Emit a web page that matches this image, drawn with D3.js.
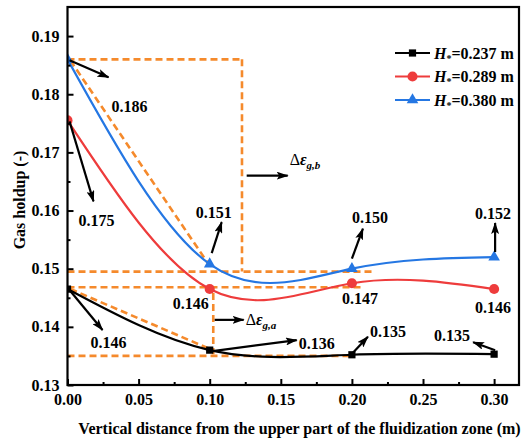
<!DOCTYPE html>
<html>
<head>
<meta charset="utf-8">
<script src="https://cdn.jsdelivr.net/npm/d3@7"></script>
<style>
  html, body { margin: 0; padding: 0; background: #fff; }
  svg text { font-family: "Liberation Serif", "Times New Roman", serif; font-weight: bold; }
</style>
</head>
<body>
<svg id="chart" width="521" height="441"></svg>
<script>
// Measurement positions (m from the upper part of the fluidization zone)
const positions = [0.0, 0.1, 0.2, 0.3];

// Gas holdup for each static bed height
const seriesNames = ["0.237", "0.289", "0.380"];
const holdup237 = [0.1465, 0.1360, 0.1352, 0.1353];
const holdup289 = [0.1755, 0.1465, 0.1475, 0.1465];
const holdup380 = [0.1860, 0.1508, 0.1500, 0.1520];

const xTicks = [0.00, 0.05, 0.10, 0.15, 0.20, 0.25, 0.30];
const yTicks = [0.13, 0.14, 0.15, 0.16, 0.17, 0.18, 0.19];

const colors = ["#000000", "#ee3c3c", "#2577e3"];
const symbols = [d3.symbolSquare, d3.symbolCircle, d3.symbolTriangle];
const symbolSizes = [52, 80, 58];
const orange = "#f58a2c";

const svg = d3.select("#chart");
const L = 67.5, R = 519, T = 7, B = 385;

const x = d3.scaleLinear().domain([0, 0.3175]).range([L, R]);
const y = d3.scaleLinear().domain([0.13, 0.195]).range([B, T]);

svg.append("defs").append("clipPath").attr("id", "plotClip")
  .append("rect").attr("x", L).attr("y", T).attr("width", R - L).attr("height", B - T);

svg.select("defs").append("marker")
  .attr("id", "arrowHead").attr("viewBox", "0 0 12 8")
  .attr("refX", 11).attr("refY", 4)
  .attr("markerWidth", 12).attr("markerHeight", 8)
  .attr("markerUnits", "userSpaceOnUse").attr("orient", "auto")
  .append("path").attr("d", "M0,0 L12,4 L0,8 L2.5,4 Z").attr("fill", "#000");

// Orange dashed guide lines (data coordinates)
const guides = [
  [[0, 0.186], [0.1227, 0.186]],
  [[0.1227, 0.186], [0.1227, 0.1495]],
  [[0, 0.1495], [0.215, 0.1495]],
  [[0, 0.1468], [0.207, 0.1468]],
  [[0.1025, 0.1458], [0.1025, 0.1353]],
  [[0, 0.1350], [0.200, 0.1350]],
  [[0.002, 0.1858], [0.1, 0.1505]],
  [[0.002, 0.1465], [0.1, 0.1362]]
];
const gG = svg.append("g").attr("clip-path", "url(#plotClip)");
guides.forEach(g => {
  gG.append("line")
    .attr("x1", x(g[0][0])).attr("y1", y(g[0][1]))
    .attr("x2", x(g[1][0])).attr("y2", y(g[1][1]))
    .attr("stroke", orange).attr("stroke-width", 2.6)
    .attr("stroke-dasharray", "7,4");
});

// Series curves and markers
const allSeries = [holdup237, holdup289, holdup380];
const line = d3.line()
  .x((d, i) => x(positions[i]))
  .y(d => y(d))
  .curve(d3.curveNatural);

const plotG = svg.append("g").attr("clip-path", "url(#plotClip)");
allSeries.forEach((vals, s) => {
  plotG.append("path").datum(vals)
    .attr("d", line).attr("fill", "none")
    .attr("stroke", colors[s]).attr("stroke-width", 2.2);
});
allSeries.forEach((vals, s) => {
  plotG.selectAll(null).data(vals).enter().append("path")
    .attr("d", d3.symbol().type(symbols[s]).size(symbolSizes[s]))
    .attr("transform", (d, i) => `translate(${x(positions[i])},${y(d)})`)
    .attr("fill", colors[s]);
});

// Axes with inward ticks
const xAxis = d3.axisBottom(x).tickValues(xTicks).tickSize(-6).tickPadding(9)
  .tickFormat(d3.format(".2f"));
const yAxis = d3.axisLeft(y).tickValues(yTicks).tickSize(-6).tickPadding(8)
  .tickFormat(d3.format(".2f"));
const xMinor = d3.axisBottom(x).tickValues(d3.range(0.025, 0.31, 0.05)).tickSize(-3).tickFormat("");
const yMinor = d3.axisLeft(y).tickValues(d3.range(0.135, 0.195, 0.01)).tickSize(-3).tickFormat("");

function styleAxis(g) {
  g.select(".domain").remove();
  g.selectAll(".tick line").attr("stroke", "#000").attr("stroke-width", 2);
  g.selectAll(".tick text").attr("font-size", 16).attr("fill", "#000")
    .attr("font-family", "Liberation Serif, serif").attr("font-weight", "bold");
}
svg.append("g").attr("transform", `translate(0,${B})`).call(xAxis).call(styleAxis);
svg.append("g").attr("transform", `translate(0,${B})`).call(xMinor).call(styleAxis);
svg.append("g").attr("transform", `translate(${L},0)`).call(yAxis).call(styleAxis);
svg.append("g").attr("transform", `translate(${L},0)`).call(yMinor).call(styleAxis);

// Frame
svg.append("rect").attr("x", L).attr("y", T).attr("width", R - L).attr("height", B - T)
  .attr("fill", "none").attr("stroke", "#000").attr("stroke-width", 2.2);

// Axis titles
svg.append("text").attr("x", 299.5).attr("y", 434).attr("text-anchor", "middle")
  .attr("font-size", 16).text("Vertical distance from the upper part of the fluidization zone (m)");
svg.append("text").attr("transform", "translate(25,200) rotate(-90)")
  .attr("text-anchor", "middle").attr("font-size", 16).text("Gas holdup (-)");

// Value annotations: anchor in data units, arrow tip and label offsets in px
const annotations = [
  { px: 0.0, v: 0.186, from: [2, 1], to: [41, 18], label: "0.186", lab: [62, 47] },
  { px: 0.0, v: 0.1755, from: [2, 1], to: [26, 81], label: "0.175", lab: [29, 100] },
  { px: 0.0, v: 0.1465, from: [2, 1], to: [35, 41], label: "0.146", lab: [41, 53] },
  { px: 0.1, v: 0.1508, from: [2, -11], to: [12, -42], label: "0.151", lab: [4, -52] },
  { px: 0.2, v: 0.1500, from: [0, -10], to: [11, -40], label: "0.150", lab: [18, -51] },
  { px: 0.3, v: 0.1520, from: [1, -5], to: [1, -34], label: "0.152", lab: [-1, -44] },
  { px: 0.1, v: 0.1465, label: "0.146", lab: [-19, 14] },
  { px: 0.2, v: 0.1475, label: "0.147", lab: [8, 15] },
  { px: 0.3, v: 0.1465, label: "0.146", lab: [-1, 18] },
  { px: 0.1, v: 0.1360, from: [3, 1], to: [87, -10], label: "0.136", lab: [107, -7] },
  { px: 0.2, v: 0.1352, from: [1, -2], to: [16, -18], label: "0.135", lab: [36, -23] },
  { px: 0.3, v: 0.1353, from: [1, -4], to: [-21, -12], label: "0.135", lab: [-42, -19] }
];
const annG = svg.append("g");
annotations.forEach(a => {
  const ax = x(a.px), ay = y(a.v);
  if (a.from) {
    annG.append("line")
      .attr("x1", ax + a.from[0]).attr("y1", ay + a.from[1])
      .attr("x2", ax + a.to[0]).attr("y2", ay + a.to[1])
      .attr("stroke", "#000").attr("stroke-width", 2.2)
      .attr("marker-end", "url(#arrowHead)");
  }
  annG.append("text").attr("x", ax + a.lab[0]).attr("y", ay + a.lab[1])
    .attr("text-anchor", "middle").attr("dominant-baseline", "central")
    .attr("font-size", 16).text(a.label);
});

// Holdup difference markers
function deltaLabel(px, v, len, sub, lab) {
  const ax = x(px), ay = y(v);
  annG.append("line").attr("x1", ax).attr("y1", ay).attr("x2", ax + len).attr("y2", ay)
    .attr("stroke", "#000").attr("stroke-width", 2.2).attr("marker-end", "url(#arrowHead)");
  const t = annG.append("text").attr("x", ax + lab[0]).attr("y", ay + lab[1])
    .attr("font-size", 16);
  t.append("tspan").attr("font-weight", "normal").text("Δ");
  t.append("tspan").attr("font-style", "italic").text("ε");
  t.append("tspan").attr("font-style", "italic").attr("font-size", 11).attr("dy", 4).text(sub);
}
deltaLabel(0.126, 0.1660, 41, "g,b", [43, -11]);
deltaLabel(0.1035, 0.1412, 29, "g,a", [31, 5]);

// Legend
const legend = svg.append("g");
seriesNames.forEach((name, s) => {
  const ly = 53 + s * 23.5;
  legend.append("line").attr("x1", 395).attr("x2", 430).attr("y1", ly).attr("y2", ly)
    .attr("stroke", colors[s]).attr("stroke-width", 2.2);
  legend.append("path").attr("d", d3.symbol().type(symbols[s]).size(symbolSizes[s]))
    .attr("transform", `translate(412.5,${ly})`).attr("fill", colors[s]);
  const t = legend.append("text").attr("x", 434).attr("y", ly + 5.5).attr("font-size", 16);
  t.append("tspan").attr("font-style", "italic").text("H");
  t.append("tspan").attr("font-size", 10).attr("dy", 3).text("*");
  t.append("tspan").attr("dy", -3).text("=" + name + " m");
});
</script>
</body>
</html>
